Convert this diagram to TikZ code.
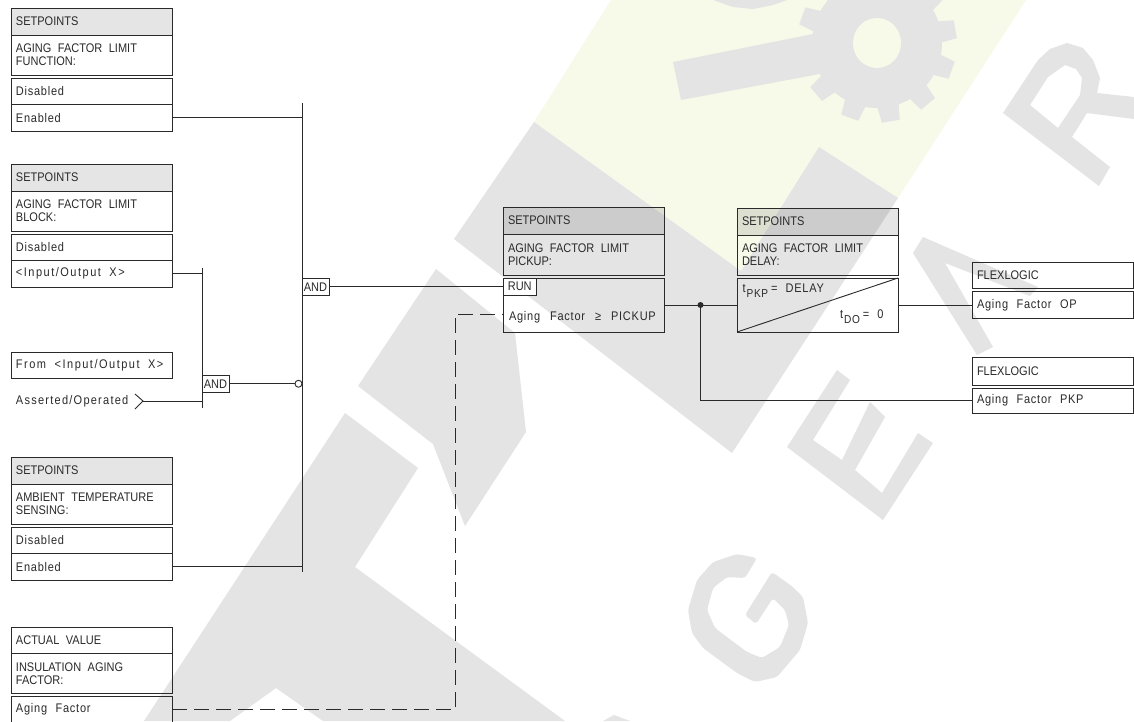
\documentclass[tikz,border=0pt]{standalone}
\usepackage{fontspec}
\setmainfont{Liberation Sans}[FakeStretch=0.88]
\newfontfamily\rowfont{Liberation Sans}[FakeStretch=0.88,LetterSpace=6]
\newfontfamily\iofont{Liberation Sans}[FakeStretch=0.88,LetterSpace=12]
\newfontfamily\signalfont{Liberation Sans}[FakeStretch=0.88,LetterSpace=10]
\usepackage{xcolor}
\usetikzlibrary{positioning}
\definecolor{wmgrey}{HTML}{E4E4E4}
\definecolor{wmyellow}{HTML}{F7F9E9}
\definecolor{linecol}{HTML}{2A2A2A}

\begin{document}
\begin{tikzpicture}[
    x=1pt, y=-1pt,
    node distance=0pt,
    row/.style={draw=linecol, rectangle, line width=0.9pt, outer sep=0pt, inner xsep=5pt, inner ysep=0pt,
      minimum width=161pt, text width=151pt, minimum height=26.5pt, align=left,
      font=\fontsize{12.5}{13}\selectfont, text=linecol, execute at begin node={\spaceskip=6.5pt\relax}},
    lowrow/.style={row, font=\fontsize{12.5}{13}\selectfont\rowfont, execute at begin node={\spaceskip=8.5pt\relax}},
    head/.style={row, fill=black, fill opacity=0.1, text opacity=1, draw opacity=1},
    title/.style={row, minimum height=40pt},
    gate/.style={draw=linecol, rectangle, line width=0.9pt, outer sep=0pt, inner sep=0pt, fill=white, align=center,
      minimum width=27pt, minimum height=17.5pt, font=\fontsize{12.5}{13}\selectfont, text=linecol},
    plain/.style={inner sep=0pt, outer sep=0pt, font=\fontsize{12.5}{13}\selectfont\rowfont, text=linecol,
      execute at begin node={\spaceskip=8.5pt\relax}},
    wire/.style={draw=linecol, line width=0.9pt},
    dashwire/.style={wire, dash pattern=on 15pt off 7pt}
]
\useasboundingbox (0,0) rectangle (1134,721);

% watermark behind everything
\begin{scope}
\clip (0,0) rectangle (1134,721);
\fill[white] (0,0) rectangle (1134,721);
\fill[wmyellow] (611,0) -- (534,122) -- (741,271) -- (819,147) -- (898,198) -- (1026,0) -- cycle;
\fill[wmgrey] (534,122) -- (741,271) -- (819,147) -- (898,198) -- (732,453) -- (454,239) -- cycle;
\fill[wmgrey] (436,269) -- (515,333) -- (526,432) -- (465,526) -- (433,444) -- (358,386) -- cycle;
\fill[wmgrey] (345,413) -- (418,468) -- (355,567) -- (565,721) -- (323,721) -- (276,688) -- (230,721) -- (144,721) -- cycle;
\fill[wmgrey] (614,715) -- (630,721) -- (603,721) -- cycle;
\fill[wmgrey] (713,0) -- (733,7) -- (753,9) -- (773,5) -- (787,0) -- cycle;
% gear and its handle
\fill[wmgrey] (673,62) -- (681,100) -- (825,73) -- (818,33) -- cycle;
\fill[wmgrey] (877,43) circle (65);
\foreach \ang in {-10,20,...,320}
  \fill[wmgrey] ([shift={(877,43)}]\ang-10:63) -- ([shift={(877,43)}]\ang-6.5:80) -- ([shift={(877,43)}]\ang+6.5:80) -- ([shift={(877,43)}]\ang+10:63) -- cycle;
\fill[wmyellow] (877,43) ellipse (24 and 25);
% letters
\fill[wmgrey, even odd rule] (1003,113) -- (1038,60) -- (1050,49) -- (1067,43) -- (1083,48) -- (1093,60) -- (1100,78) -- (1097,93) -- (1134,97) -- (1134,119) -- (1087,113) -- (1072,137) -- (1110,167) -- (1099,186) -- cycle
  (1030,105) -- (1048,77) -- (1065,65) -- (1076,69) -- (1082,78) -- (1080,95) -- (1058,128) -- cycle;
\fill[wmgrey] (923,237) -- (1038,287) -- (1030,296) -- (945,263) -- (993,347) -- (977,355) -- (913,253) -- cycle;
\fill[wmgrey] (837,370) -- (850,380) -- (813,440) -- (842,460) -- (870,402) -- (885,417) -- (855,470) -- (882,493) -- (918,433) -- (933,443) -- (883,520) -- (787,447) -- cycle;
\fill[wmgrey, rounded corners=3pt] (757,558) -- (737,554) -- (713,562) -- (697,580) -- (688,610) -- (692,633) -- (703,648) -- (737,673) -- (755,682) -- (777,677) -- (800,650) -- (808,623) -- (803,597) -- (793,587) -- (772,572) -- (745,615) -- (756,624) -- (773,598) -- (785,610) -- (789,625) -- (780,647) -- (762,658) -- (747,652) -- (715,628) -- (707,610) -- (713,588) -- (727,577) -- (745,578) -- cycle;
\end{scope}

% limit function
\node[head, minimum height=27pt, anchor=north west] (funchead) at (11,8) {SETPOINTS};
\node[title, below=of funchead] (functitle) {AGING FACTOR LIMIT\\FUNCTION:};
\node[lowrow, below=3pt of functitle] (funcoff) {Disabled};
\node[lowrow, below=of funcoff] (funcon) {Enabled};

% limit block
\node[head, minimum height=27pt, anchor=north west] (blockhead) at (11,164) {SETPOINTS};
\node[title, below=of blockhead] (blocktitle) {AGING FACTOR LIMIT\\BLOCK:};
\node[lowrow, below=3pt of blocktitle] (blockoff) {Disabled};
\node[lowrow, below=of blockoff, font=\fontsize{12.5}{13}\selectfont\iofont] (blockio) {<Input/Output X>};

\node[lowrow, anchor=north west, font=\fontsize{12.5}{13}\selectfont\iofont] (fromio) at (11,352) {From <Input/Output X>};
\node[plain, anchor=west, font=\fontsize{12.5}{13}\selectfont\signalfont] (asserted) at (16,401) {Asserted/Operated};
\coordinate (chevtip) at (143,401);

% ambient temperature
\node[head, minimum height=27pt, anchor=north west] (ambhead) at (11,457) {SETPOINTS};
\node[title, below=of ambhead] (ambtitle) {AMBIENT TEMPERATURE\\SENSING:};
\node[lowrow, below=3pt of ambtitle] (amboff) {Disabled};
\node[lowrow, below=of amboff] (ambon) {Enabled};

% actual value
\node[row, anchor=north west] (acthead) at (11,627) {ACTUAL VALUE};
\node[title, below=of acthead] (acttitle) {INSULATION AGING\\FACTOR:};
\node[lowrow, below=3pt of acttitle] (actfactor) {Aging Factor};

% the two AND bars
\coordinate (busatop) at (302,103);
\coordinate (busabot) at (302,572);
\coordinate (busbtop) at (202,268);
\coordinate (busbbot) at (202,408);
\node[gate, anchor=north west] (andb) at (202,375) {AND};
\node[gate, anchor=north west] (anda) at (302,278) {AND};
\node[circle, draw=linecol, line width=0.9pt, inner sep=0pt, minimum size=7pt, fill=white, outer sep=0pt] (notin) at (298.5,383.75) {};

% pickup
\node[head, minimum height=27pt, anchor=north west] (pickhead) at (503,207) {SETPOINTS};
\node[title, below=of pickhead, minimum height=41pt] (picktitle) {AGING FACTOR LIMIT\\PICKUP:};
\node[row, below=3pt of picktitle, minimum height=54pt] (pickrow) {};
\node[gate, anchor=north west, minimum width=33.5pt] (runbox) at (pickrow.north west) {RUN};
\node[plain, anchor=west, execute at begin node={\spaceskip=10pt\relax}] (picktext) at (509,317) {Aging Factor ≥ PICKUP};
\coordinate (pickin) at (503,314);
\coordinate (dashcorner) at (455,314);
\node[fill=linecol, circle, inner sep=0pt, minimum size=6pt] (joint) at (700.5,305) {};

% delay
\node[head, minimum height=27pt, anchor=north west] (delayhead) at (737,208) {SETPOINTS};
\node[title, below=of delayhead] (delaytitle) {AGING FACTOR LIMIT\\DELAY:};
\node[row, below=3pt of delaytitle, minimum height=54pt] (delayrow) {};
\node[plain, anchor=west] (tpkp) at (742.5,291) {t\raisebox{-5pt}{\kern1pt\fontsize{11.5}{12}\selectfont\rowfont PKP}\kern3pt=\kern8pt DELAY};
\node[plain, anchor=west] (tdo) at (840,317) {t\raisebox{-5pt}{\kern1pt\fontsize{11.5}{12}\selectfont\rowfont DO}\kern3pt=\kern8pt 0};

% flexlogic outputs
\node[row, anchor=north west, minimum width=160pt, minimum height=26.5pt] (ophead) at (972,262) {FLEXLOGIC};
\node[lowrow, below=3pt of ophead, minimum width=160pt, minimum height=27pt] (oprow) {Aging Factor OP};
\node[row, anchor=north west, minimum width=160pt, minimum height=28pt] (pkphead) at (972,357) {FLEXLOGIC};
\node[lowrow, below=3pt of pkphead, minimum width=160pt, minimum height=25pt] (pkprow) {Aging Factor PKP};

% bars and wires
\draw[wire] (busatop) -- (busabot);
\draw[wire] (busbtop) -- (busbbot);
\draw[wire] (funcon.east) -- (funcon.east -| busatop);
\draw[wire] (ambon.east) -- (ambon.east -| busatop);
\draw[wire] (blockio.east) -- (blockio.east -| busbtop);
\draw[wire] (chevtip -| busbtop) -- (chevtip);
\draw[wire] ([shift={(-8,-7)}]chevtip) -- (chevtip) -- ([shift={(-8,8)}]chevtip);
\draw[wire] (andb.east) -- (notin.west);
\draw[wire] (anda.east) -- (runbox.west);
\draw[dashwire] (actfactor.east) -- (actfactor.east -| dashcorner) -- (dashcorner) -- (pickin);
\draw[wire] (pickrow.east) -- (delayrow.west);
\draw[wire] (joint) |- (pkprow.west);
\draw[wire] (delayrow.east) -- (oprow.west);
\draw[wire] (delayrow.south west) -- (delayrow.north east);
\end{tikzpicture}
\end{document}
